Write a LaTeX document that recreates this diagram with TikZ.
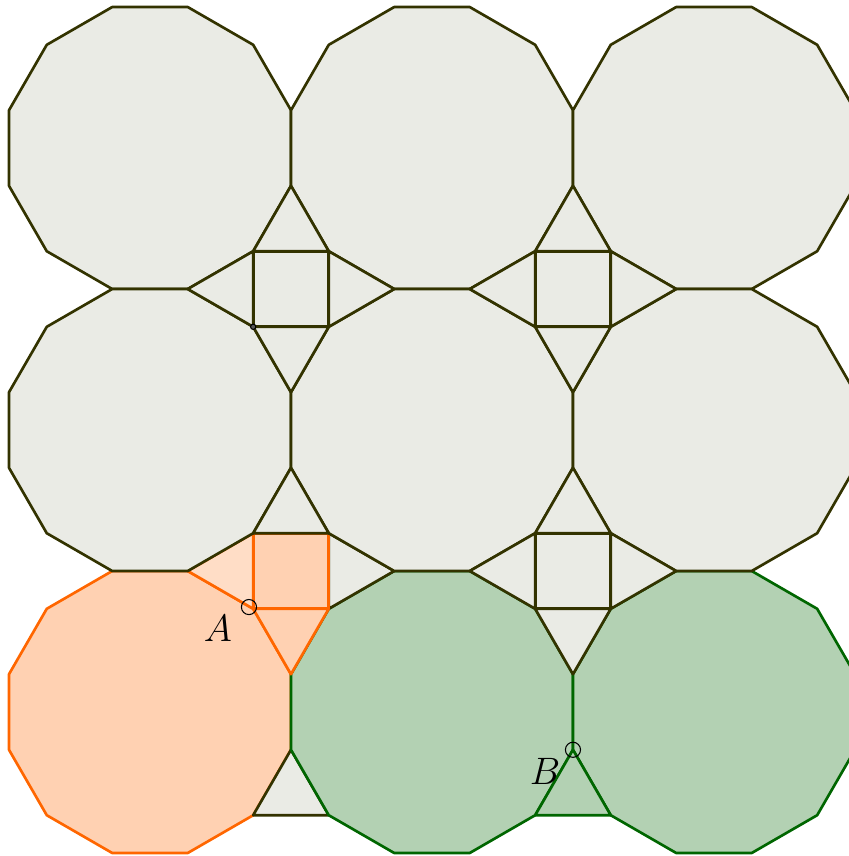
\documentclass[tikz,border=0pt]{standalone}
\usepackage{tikz}
\usetikzlibrary{calc}
\definecolor{gDark}{HTML}{333300}
\definecolor{gPale}{HTML}{EAEBE5}
\definecolor{oLine}{HTML}{FF6600}
\definecolor{oFill}{HTML}{FFD1B2}
\definecolor{oPale}{HTML}{FFDDC6}
\definecolor{vLine}{HTML}{006600}
\definecolor{vFill}{HTML}{B3D1B3}
% edge length = 1; dodecagon centre spacing = 2+sqrt3, circumradius
\def\dSep{3.7320508}
\def\dRad{1.9318517}
\def\tH{1.3660254}
\tikzset{
  tiling/.style={line width=1pt, line join=round, line cap=round},
  tileGray/.style={draw=gDark, fill=gPale},
  tileOrange/.style={draw=oLine, fill=oFill},
  tileOrangePale/.style={draw=oLine, fill=oPale},
  tileGreen/.style={draw=vLine, fill=vFill},
  markPt/.style={draw=black, line width=0.4pt},
  ptLabel/.style={font=\Large, inner sep=0pt},
}
% #1 style, #2 column, #3 row (in units of \dSep)
\newcommand{\dodeca}[3]{%
  \path[#1, shift={(#2*\dSep, -#3*\dSep)}]
    (15:\dRad) \foreach \t in {45,75,...,345} { -- (\t:\dRad) } -- cycle;}
\newcommand{\sqTile}[3]{%
  \path[#1, shift={(#2*\dSep, -#3*\dSep)}] (-0.5,-0.5) rectangle (0.5,0.5);}
% #4: 0 top, 90 left, 180 bottom, 270 right
\newcommand{\cornerTri}[4]{%
  \path[#1, shift={(#2*\dSep, -#3*\dSep)}, rotate=#4]
    (-0.5,0.5) -- (0.5,0.5) -- (0,\tH) -- cycle;}

\begin{document}
\begin{tikzpicture}[tiling, x=1cm, y=1cm]

\useasboundingbox (-1.985,-9.370) rectangle (9.251,1.959);
\clip (-1.985,-9.370) rectangle (9.251,1.959);

% ============================================================
% bottom row: coloured tiles first
% ============================================================
\dodeca{tileOrange}{0}{2}
\cornerTri{tileGray}{0.5}{2.5}{0}
\dodeca{tileGreen}{1}{2}
\dodeca{tileGreen}{2}{2}
\cornerTri{tileGreen}{1.5}{2.5}{0}

% orange square with its two orange triangles
\cornerTri{tileGray}{0.5}{1.5}{270}
\cornerTri{tileOrangePale}{0.5}{1.5}{90}
\sqTile{tileOrange}{0.5}{1.5}
\cornerTri{tileOrange}{0.5}{1.5}{180}

% ============================================================
% grey tiles on top
% ============================================================
\foreach \r in {0,1}
  \foreach \c in {0,1,2} {\dodeca{tileGray}{\c}{\r}}

\foreach \c/\r in {0.5/0.5, 1.5/0.5, 1.5/1.5} {
  \sqTile{tileGray}{\c}{\r}
  \foreach \q in {0,90,180,270} {\cornerTri{tileGray}{\c}{\r}{\q}}
}
\cornerTri{tileGray}{0.5}{1.5}{0}

% ============================================================
% points
% ============================================================
\coordinate (ptC) at (0.5*\dSep-0.5, -0.5*\dSep-0.5);
\draw[line width=0.4pt, fill=black!65] (ptC) circle[radius=0.035];

\coordinate (ptA) at (1.31,-6.075);
\draw[markPt] (ptA) circle[radius=0.1];
\node[ptLabel] (labA) at ($(ptA)+(-0.41,-0.28)$) {$A$};

\coordinate (ptB) at (1.5*\dSep, -2.5*\dSep+\tH);
\draw[markPt] (ptB) circle[radius=0.1];
\node[ptLabel] (labB) at ($(ptB)+(-0.37,-0.28)$) {$B$};

\end{tikzpicture}
\end{document}
